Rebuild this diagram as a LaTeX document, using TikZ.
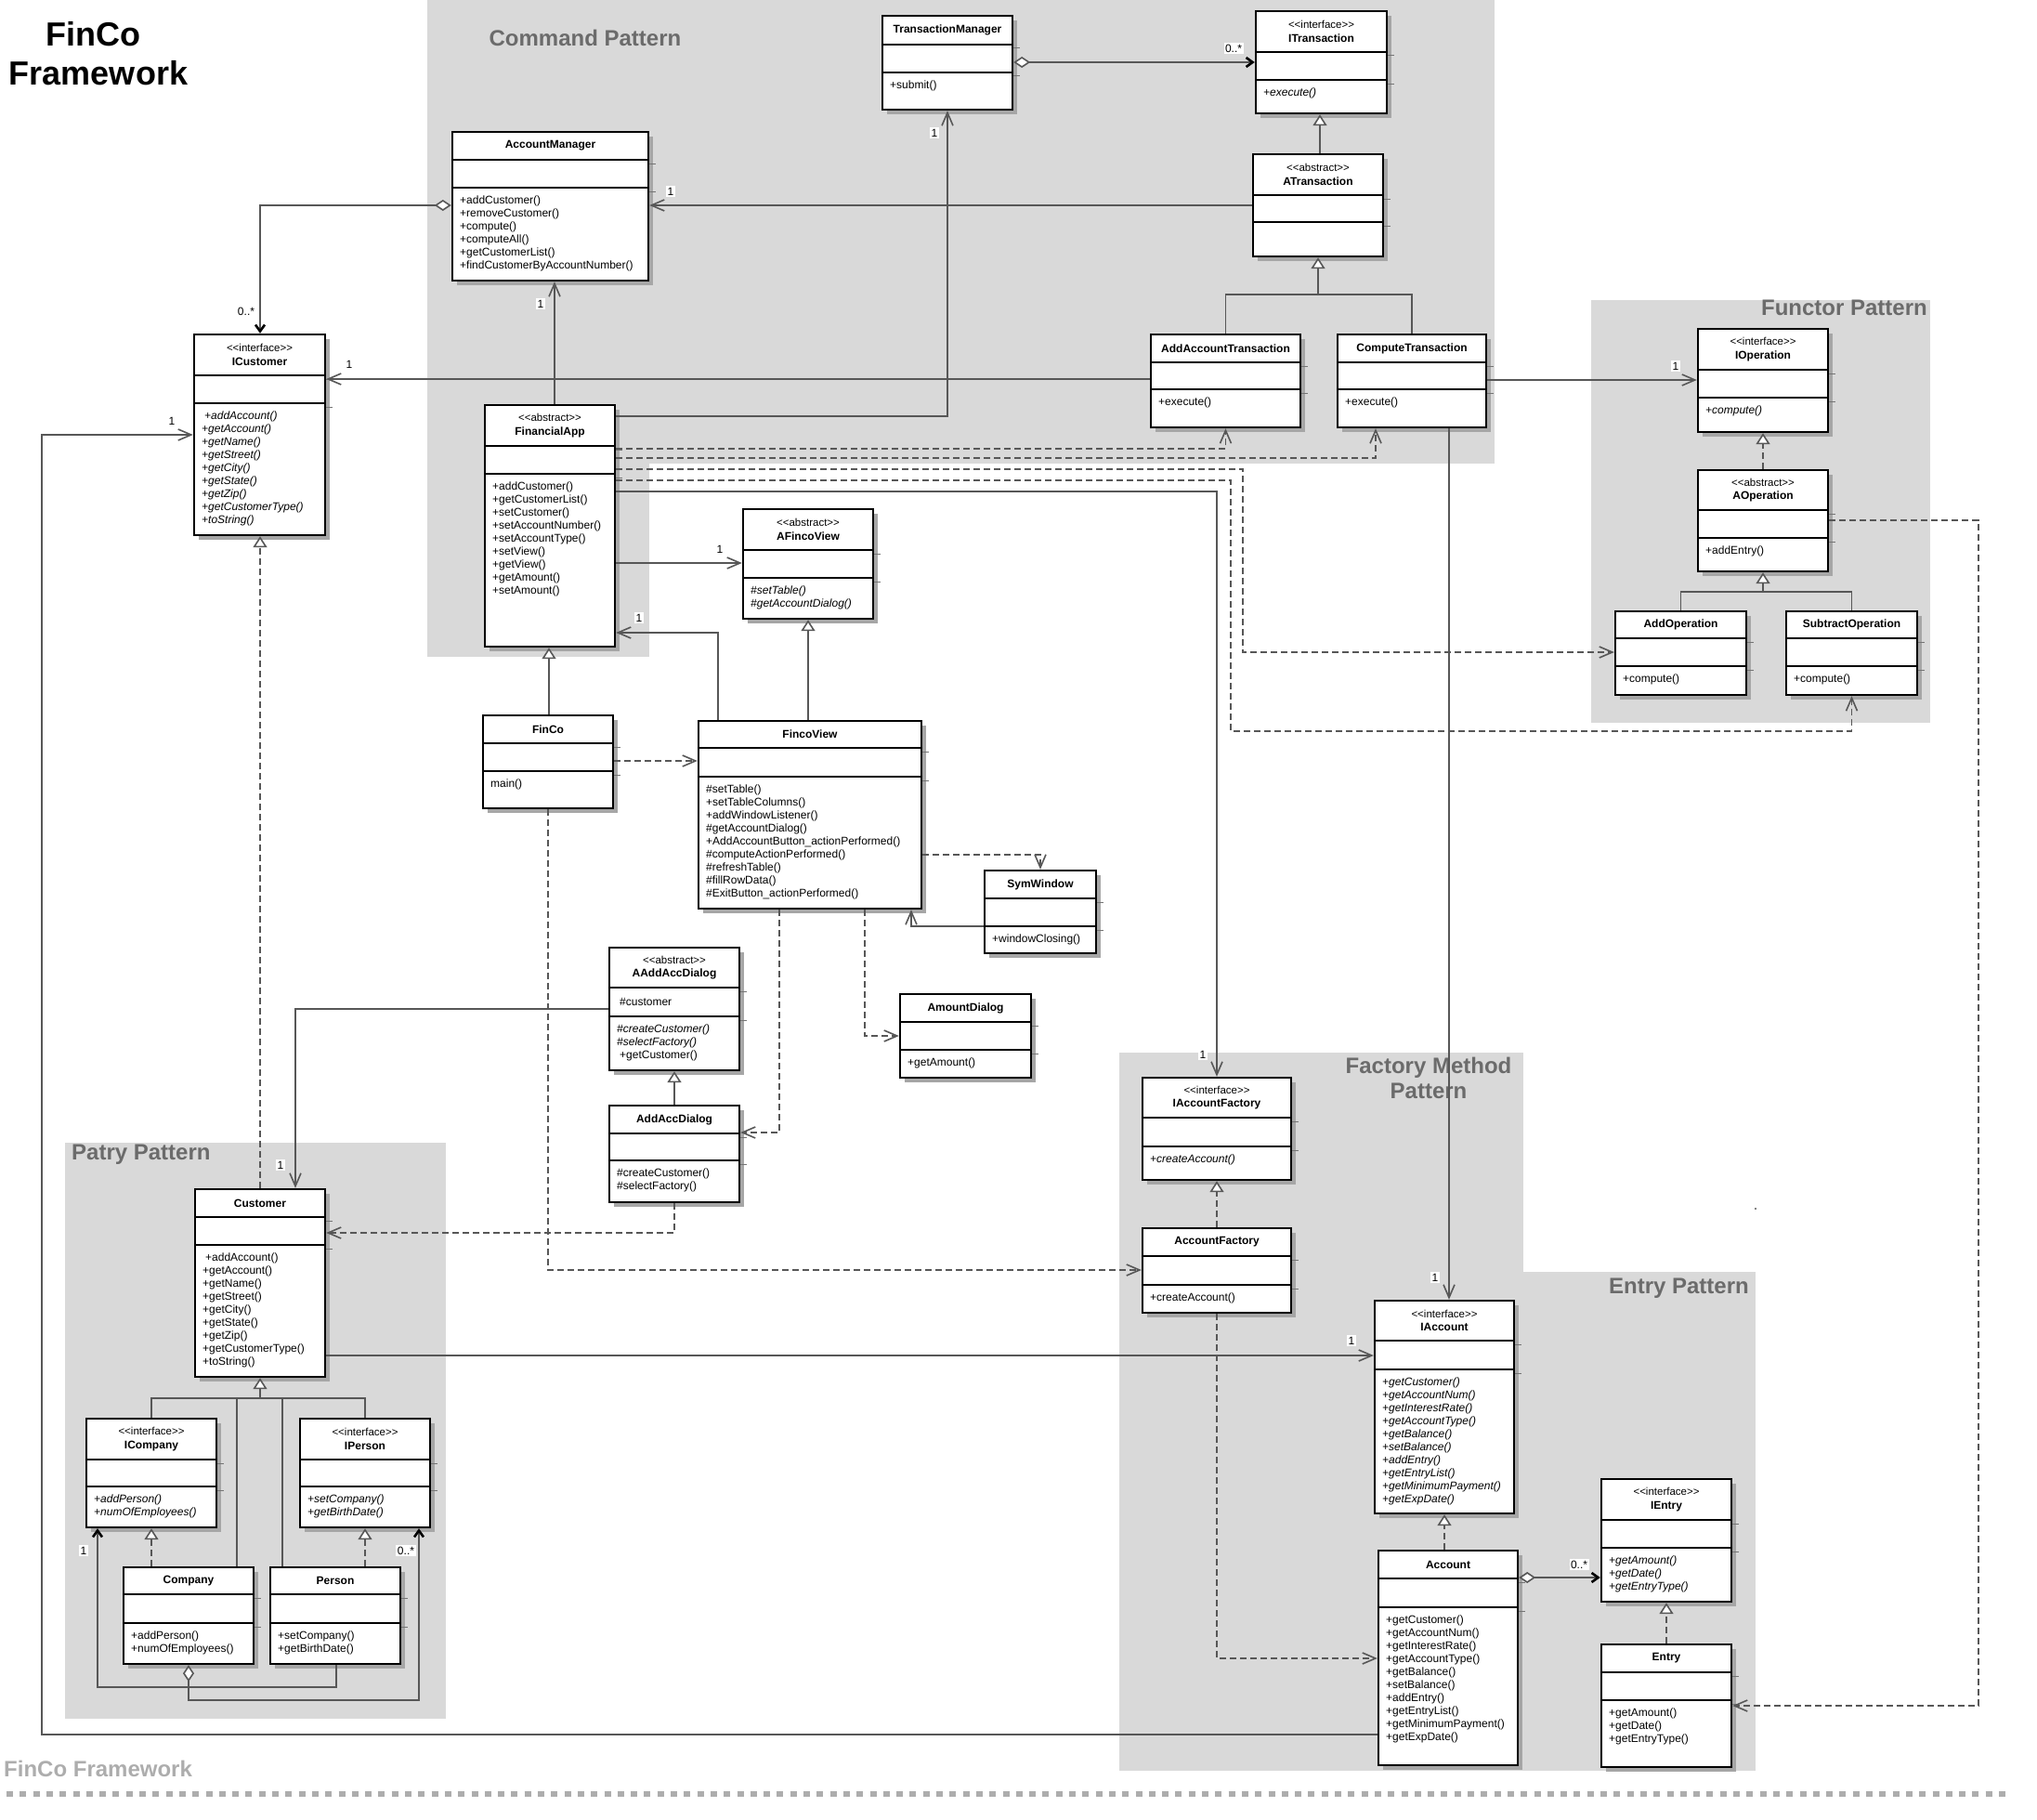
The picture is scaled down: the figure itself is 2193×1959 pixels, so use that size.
\documentclass[tikz,border=0pt]{standalone}
\usepackage{fontspec}
\setmainfont{Liberation Sans}
\usetikzlibrary{arrows.meta,fit}
\definecolor{bgc}{HTML}{D9D9D9}
\definecolor{shc}{HTML}{A6A6A6}
\definecolor{lnc}{HTML}{575757}
\definecolor{patc}{HTML}{6B6B6B}
\definecolor{capc}{HTML}{ADADAD}
\newcommand{\mfont}{\fontsize{12}{14}\selectfont}
\newcommand{\nfont}{\fontsize{12}{14.5}\selectfont\bfseries}
\newcommand{\sfnt}{\fontsize{11.5}{14}\selectfont\mdseries}
\newcommand{\stI}{{\sfnt\mbox{<}\mbox{<}interface\mbox{>}\mbox{>}}}
\newcommand{\stA}{{\sfnt\mbox{<}\mbox{<}abstract\mbox{>}\mbox{>}}}
\tikzset{
 classbox/.style={draw=black, fill=white, line width=2.4pt, inner sep=0pt},
 sepline/.style={black, line width=2.4pt},
 tickl/.style={color=shc!70!black, line width=1pt},
 titlest/.style={align=center, font=\nfont, inner sep=0pt},
 bodyst/.style={anchor=north west, align=left, inner sep=0pt, font=\mfont},
 curbody/.style={bodyst},
 conn/.style={draw=lnc, line width=1.8pt},
 dep/.style={conn, dash pattern=on 7pt off 4pt},
 oa/.tip={Straight Barb[length=14pt,width=12pt,line width=1.6pt]},
 ga/.tip={Triangle[fill=white,length=12pt,width=15pt,line width=1.6pt]},
 da/.tip={Diamond[fill=white,length=18pt,width=12pt,line width=1.6pt]},
 sa/.tip={Straight Barb[length=7pt,width=10pt,line width=2.6pt,color=black]},
 mult/.style={fill=white, inner sep=1.5pt, font=\mfont},
 patlabel/.style={font=\fontsize{24}{28}\selectfont\bfseries, text=patc, inner sep=0pt},
}
\newcommand{\umlclass}[9]{%
 \fill[shc] ({#2+5},{#3+5}) rectangle ({#4+5},{#7+5});
 \draw[tickl] (#4,{#5+4}) -- ({#4+8},{#5+4}) (#4,{#6+4}) -- ({#4+8},{#6+4});
 \node[classbox, fit={(#2,#3) (#4,#7)}] (#1) {};
 \draw[sepline] (#2,#5) -- (#4,#5) (#2,#6) -- (#4,#6);
 \node[titlest] (#1-t) at ({(#2+#4)/2},{(#3+#5)/2}) {#8};
 \node[curbody] (#1-b) at ({#2+8},{#6+9}) {#9};
 \tikzset{curbody/.style={bodyst}}%
}
\newcommand{\ital}{\tikzset{curbody/.style={bodyst,font=\mfont\itshape}}}
\begin{document}
\begin{tikzpicture}[x=1pt,y=-1pt]
\useasboundingbox (0,0) rectangle (2193,1959);
% backgrounds
\fill[bgc] (460,0) rectangle (1609,499);
\fill[bgc] (460,499) rectangle (699,707);
\fill[bgc] (1713,323) rectangle (2078,778);
\fill[bgc] (70,1230) rectangle (480,1850);
\fill[bgc] (1205,1133) rectangle (1640,1906);
\fill[bgc] (1640,1369) rectangle (1890,1906);
% titles
\node[font=\fontsize{36}{42}\selectfont\bfseries, anchor=base, inner sep=0pt] (tt1) at (100,50) {FinCo};
\node[font=\fontsize{36}{42}\selectfont\bfseries, anchor=base, inner sep=0pt] (tt2) at (106,92) {Framework};
\node[patlabel, anchor=base] (p1) at (630,50) {Command Pattern};
\node[patlabel, anchor=base east] (p2) at (2075,339) {Functor Pattern};
\node[patlabel, anchor=base west] (p3) at (77,1248) {Patry Pattern};
\node[patlabel, anchor=base] (p4) at (1538,1155) {Factory Method};
\node[patlabel, anchor=base] (p5) at (1538,1182) {Pattern};
\node[patlabel, anchor=base east] (p6) at (1883,1392) {Entry Pattern};
% classes
\umlclass{TM}{950}{17}{1090}{48}{78}{118}{TransactionManager}{+submit()}
\ital\umlclass{ITr}{1352}{12}{1493}{56}{86}{122}{\stI\\ITransaction}{+execute()}
\umlclass{ATr}{1349}{166}{1489}{210}{239}{276}{\stA\\ATransaction}{}
\umlclass{AAT}{1239}{360}{1400}{390}{419}{460}{AddAccountTransaction}{+execute()}
\umlclass{CT}{1440}{360}{1600}{390}{419}{460}{ComputeTransaction}{+execute()}
\umlclass{AM}{487}{142}{698}{172}{202}{302}{AccountManager}{+addCustomer()\\+removeCustomer()\\+compute()\\+computeAll()\\+getCustomerList()\\+findCustomerByAccountNumber()}
\ital\umlclass{ICu}{209}{360}{350}{404}{434}{576}{\stI\\ICustomer}{\hspace*{3pt}+addAccount()\\+getAccount()\\+getName()\\+getStreet()\\+getCity()\\+getState()\\+getZip()\\+getCustomerType()\\+toString()}
\umlclass{FA}{522}{436}{662}{480}{510}{696}{\stA\\FinancialApp}{+addCustomer()\\+getCustomerList()\\+setCustomer()\\+setAccountNumber()\\+setAccountType()\\+setView()\\+getView()\\+getAmount()\\+setAmount()}
\ital\umlclass{AFV}{800}{548}{940}{592}{622}{666}{\stA\\AFincoView}{\#setTable()\\\#getAccountDialog()}
\umlclass{FinCo}{520}{770}{660}{800}{830}{870}{FinCo}{main()}
\umlclass{FV}{752}{776}{992}{805}{836}{978}{FincoView}{\#setTable()\\+setTableColumns()\\+addWindowListener()\\\#getAccountDialog()\\+AddAccountButton\_actionPerformed()\\\#computeActionPerformed()\\\#refreshTable()\\\#fillRowData()\\\#ExitButton\_actionPerformed()}
\umlclass{SW}{1060}{937}{1180}{967}{997}{1026}{SymWindow}{+windowClosing()}
\umlclass{AAD}{656}{1020}{796}{1063}{1094}{1152}{\stA\\AAddAccDialog}{\textit{\#createCustomer()}\\\textit{\#selectFactory()}\\\hspace*{3pt}+getCustomer()}
\node[bodyst, anchor=west] (AAD-a) at (667,1078) {\#customer};
\umlclass{AD}{656}{1190}{796}{1220}{1249}{1294}{AddAccDialog}{\#createCustomer()\\\#selectFactory()}
\umlclass{AmD}{969}{1070}{1110}{1100}{1130}{1160}{AmountDialog}{+getAmount()}
\ital\umlclass{IOp}{1828}{354}{1968}{398}{428}{465}{\stI\\IOperation}{+compute()}
\umlclass{AOp}{1828}{506}{1968}{549}{579}{615}{\stA\\AOperation}{+addEntry()}
\umlclass{AddOp}{1739}{658}{1880}{687}{717}{748}{AddOperation}{+compute()}
\umlclass{SubOp}{1923}{658}{2064}{687}{717}{748}{SubtractOperation}{+compute()}
\ital\umlclass{IAF}{1230}{1160}{1390}{1203}{1234}{1270}{\stI\\IAccountFactory}{+createAccount()}
\umlclass{AF}{1230}{1322}{1390}{1352}{1383}{1413}{AccountFactory}{+createAccount()}
\ital\umlclass{IAcc}{1480}{1400}{1630}{1443}{1474}{1629}{\stI\\IAccount}{+getCustomer()\\+getAccountNum()\\+getInterestRate()\\+getAccountType()\\+getBalance()\\+setBalance()\\+addEntry()\\+getEntryList()\\+getMinimumPayment()\\+getExpDate()}
\umlclass{Acc}{1484}{1669}{1634}{1699}{1730}{1900}{Account}{+getCustomer()\\+getAccountNum()\\+getInterestRate()\\+getAccountType()\\+getBalance()\\+setBalance()\\+addEntry()\\+getEntryList()\\+getMinimumPayment()\\+getExpDate()}
\ital\umlclass{IEn}{1724}{1592}{1864}{1636}{1666}{1724}{\stI\\IEntry}{+getAmount()\\+getDate()\\+getEntryType()}
\umlclass{En}{1724}{1770}{1864}{1800}{1830}{1902}{Entry}{+getAmount()\\+getDate()\\+getEntryType()}
\umlclass{Cu}{210}{1280}{350}{1310}{1340}{1482}{Customer}{\hspace*{3pt}+addAccount()\\+getAccount()\\+getName()\\+getStreet()\\+getCity()\\+getState()\\+getZip()\\+getCustomerType()\\+toString()}
\ital\umlclass{ICo}{93}{1527}{233}{1571}{1600}{1644}{\stI\\ICompany}{+addPerson()\\+numOfEmployees()}
\ital\umlclass{IPe}{323}{1527}{463}{1571}{1600}{1644}{\stI\\IPerson}{+setCompany()\\+getBirthDate()}
\umlclass{Co}{133}{1687}{273}{1716}{1747}{1791}{Company}{+addPerson()\\+numOfEmployees()}
\umlclass{Pe}{291}{1687}{431}{1716}{1747}{1791}{Person}{+setCompany()\\+getBirthDate()}
% connectors: command pattern
\draw[conn,{da}-{sa}] (TM.east |- 0,67) -- (ITr.west |- 0,67);
\draw[conn,-{ga}] (ATr.north -| 1421,0) -- (ITr.south -| 1421,0);
\draw[conn,-{ga}] (ATr.south |- 0,317) -- (ATr.south);
\draw[conn] (AAT.north) |- (CT.north |- 0,317) -- (CT.north);
\draw[conn,-{oa}] (ATr.west |- 0,221) -- (AM.east |- 0,221);
\draw[conn,{da}-{sa}] (AM.west |- 0,221) -| (ICu.north -| 280,0);
\draw[conn,-{oa}] (FA.east |- 0,448) -| (TM.south -| 1020,0);
\draw[conn,-{oa}] (FA.north -| 597,0) -- (AM.south -| 597,0);
\draw[conn,-{oa}] (AAT.west |- 0,408) -- (ICu.east |- 0,408);
\draw[conn,-{oa}] (CT.east |- 0,409) -- (IOp.west |- 0,409);
\draw[conn,-{oa}] (CT.south -| 1560,0) -- (IAcc.north -| 1560,0);
\draw[dep,-{oa}] (FA.east |- 0,483) -| (AAT.south);
\draw[dep,-{oa}] (FA.east |- 0,493) -| (CT.south -| 1481,0);
\draw[dep,-{oa}] (FA.east |- 0,505) -| (1338,702) -- (AddOp.west |- 0,702);
\draw[dep,-{oa}] (FA.east |- 0,517) -| (1325,787) -| (SubOp.south);
\draw[conn,-{oa}] (FA.east |- 0,529) -| (IAF.north);
\draw[conn,-{oa}] (FA.east |- 0,606) -- (AFV.west |- 0,606);
\draw[conn,-{oa}] (FV.north -| 773,0) |- (FA.east |- 0,681);
\draw[conn,-{ga}] (FV.north -| 870,0) -- (AFV.south -| 870,0);
\draw[conn,-{ga}] (FinCo.north -| 591,0) -- (FA.south -| 591,0);
\draw[dep,-{oa}] (FinCo.east |- 0,819) -- (FV.west |- 0,819);
\draw[dep,-{oa}] (FV.east |- 0,920) -| (SW.north);
\draw[conn,-{oa}] (SW.west |- 0,997) -| (FV.south -| 981,0);
\draw[dep,-{oa}] (FV.south -| 931,0) |- (AmD.west |- 0,1115);
\draw[dep,-{oa}] (FV.south -| 839,0) |- (AD.east |- 0,1219);
\draw[conn,-{ga}] (AD.north) -- (AAD.south);
\draw[conn,-{oa}] (AAD.west |- 0,1086) -| (Cu.north -| 318,0);
\draw[dep,-{oa}] (AD.south) |- (Cu.east |- 0,1327);
\draw[dep,-{oa}] (FinCo.south) |- (AF.west |- 0,1367);
\draw[dep,-{ga}] (Cu.north -| 280,0) -- (ICu.south -| 280,0);
\draw[conn,-{oa}] (Cu.east |- 0,1459) -- (IAcc.west |- 0,1459);
\draw[conn,-{oa}] (Acc.west |- 0,1867) -| (45,468) -- (ICu.west |- 0,468);
\draw[dep,-{ga}] (IAF.north |- AF.north) -- (IAF.south);
\draw[dep,-{oa}] (AF.south) |- (Acc.west |- 0,1785);
\draw[dep,-{ga}] (Acc.north -| 1555,0) -- (IAcc.south -| 1555,0);
\draw[conn,{da}-{sa}] (Acc.east |- 0,1698) -- (IEn.west |- 0,1698);
\draw[dep,-{ga}] (En.north) -- (IEn.south);
\draw[dep,-{oa}] (AOp.east |- 0,560) -| (2130,1836) -- (En.east |- 0,1836);
\draw[dep,-{ga}] (AOp.north) -- (IOp.south);
\draw[conn,-{ga}] (AOp.south |- 0,637) -- (AOp.south);
\draw[conn] (AddOp.north) |- (SubOp.north |- 0,637) -- (SubOp.north);
% patry
\draw[conn,-{ga}] (Cu.south |- 0,1505) -- (Cu.south);
\draw[conn] (ICo.north) |- (IPe.north |- 0,1505) -- (IPe.north);
\draw[conn] (Co.north -| 255,0) -- (255,1505);
\draw[conn] (Pe.north -| 304,0) -- (304,1505);
\draw[dep,-{ga}] (Co.north -| 163,0) -- (ICo.south -| 163,0);
\draw[dep,-{ga}] (Pe.north -| 393,0) -- (IPe.south -| 393,0);
\draw[conn,{da}-{sa}] (Co.south -| 203,0) |- (451,1830) -- (IPe.south -| 451,0);
\draw[conn,-{sa}] (Pe.south -| 362,0) |- (105,1816) -- (ICo.south -| 105,0);
% multiplicities
\node[mult] (m1) at (1328,52) {0..*};
\node[mult] (m2) at (722,206) {1};
\node[mult] (m3) at (265,335) {0..*};
\node[mult] (m4) at (1006,143) {1};
\node[mult] (m5) at (582,327) {1};
\node[mult] (m6) at (376,392) {1};
\node[mult] (m7) at (1804,394) {1};
\node[mult] (m8) at (1545,1375) {1};
\node[mult] (m9) at (1295,1135) {1};
\node[mult] (m10) at (775,591) {1};
\node[mult] (m11) at (688,665) {1};
\node[mult] (m12) at (302,1254) {1};
\node[mult] (m13) at (1455,1443) {1};
\node[mult] (m14) at (185,453) {1};
\node[mult] (m15) at (1700,1684) {0..*};
\node[mult] (m16) at (437,1669) {0..*};
\node[mult] (m17) at (90,1669) {1};
% caption
\fill[lnc] (1890,1301) circle (1.2pt);
\node[font=\fontsize{24}{28}\selectfont\bfseries, text=capc, anchor=base west, inner sep=0pt] (cap) at (4,1912) {FinCo Framework};
\draw[capc, line width=6pt, dash pattern=on 7pt off 7.3pt] (7,1931) -- (2162,1931);
\end{tikzpicture}
\end{document}
